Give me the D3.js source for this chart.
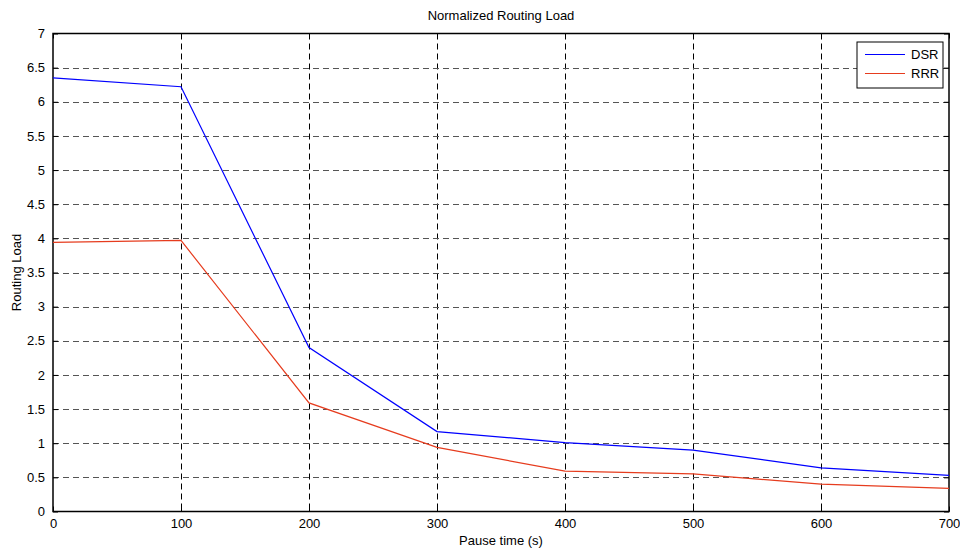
<!DOCTYPE html>
<html>
<head>
<meta charset="utf-8">
<script src="https://cdn.jsdelivr.net/npm/d3@7"></script>
<style>
  body { margin: 0; background: #fff; }
  text { font-family: "Liberation Sans", Arial, sans-serif; fill: #000; }
</style>
</head>
<body>
<div id="chart"></div>
<script>
var w = 960,
    h = 549;

// data
var pauseTimes = [0, 100, 200, 300, 400, 500, 600, 700];
var dsrLoad = [6.35, 6.22, 2.40, 1.17, 1.01, 0.90, 0.64, 0.53];
var rrrLoad = [3.94, 3.97, 1.59, 0.94, 0.59, 0.55, 0.40, 0.34];
var seriesNames = ["DSR", "RRR"];
var xTicks = [0, 100, 200, 300, 400, 500, 600, 700];
var yTicks = [0, 0.5, 1, 1.5, 2, 2.5, 3, 3.5, 4, 4.5, 5, 5.5, 6, 6.5, 7];

var color = d3.scaleOrdinal()
    .domain(seriesNames)
    .range(["#0000ff", "#e63c1e"]);

var margin = { top: 33.5, right: 11, bottom: 37.5, left: 53 };

var x = d3.scaleLinear().domain([0, 700]).range([margin.left, w - margin.right]);
var y = d3.scaleLinear().domain([0, 7]).range([h - margin.bottom, margin.top]);

var svg = d3.select("#chart").append("svg")
    .attr("width", w)
    .attr("height", h);

///////////////// grid ////////////////
var grid = svg.append("g").attr("class", "grid");

grid.selectAll(".vgrid")
    .data(xTicks.slice(1, -1))
    .enter().append("line")
    .attr("x1", function(d) { return Math.round(x(d)) + 0.5; })
    .attr("x2", function(d) { return Math.round(x(d)) + 0.5; })
    .attr("y1", y(7))
    .attr("y2", y(0))
    .style("stroke", "#000")
    .style("stroke-dasharray", "6,4");

grid.selectAll(".hgrid")
    .data(yTicks.slice(1, -1))
    .enter().append("line")
    .attr("x1", x(0))
    .attr("x2", x(700))
    .attr("y1", function(d) { return Math.round(y(d)) + 0.5; })
    .attr("y2", function(d) { return Math.round(y(d)) + 0.5; })
    .style("stroke", "#555")
    .style("stroke-dasharray", "6,4");

///////////////// axes ////////////////
var xAxis = d3.axisBottom(x).tickValues(xTicks).tickSizeInner(-5).tickSizeOuter(0).tickPadding(7);
var yAxis = d3.axisLeft(y).tickValues(yTicks).tickSizeInner(-5).tickSizeOuter(0).tickPadding(8)
    .tickFormat(function(d) { return d3.format("")(d); });

svg.append("g")
    .attr("transform", "translate(0," + (h - margin.bottom) + ")")
    .call(xAxis);
svg.append("g")
    .attr("transform", "translate(" + margin.left + ",0)")
    .call(yAxis);

// mirrored ticks on top and right
svg.append("g")
    .attr("transform", "translate(0," + margin.top + ")")
    .call(d3.axisTop(x).tickValues(xTicks).tickSizeInner(-5).tickSizeOuter(0).tickFormat(""));
svg.append("g")
    .attr("transform", "translate(" + (w - margin.right) + ",0)")
    .call(d3.axisRight(y).tickValues(yTicks).tickSizeInner(-5).tickSizeOuter(0).tickFormat(""));

svg.selectAll(".domain").style("stroke", "none");
svg.selectAll(".tick line").style("stroke", "#000");
svg.selectAll(".tick text").style("font-size", "13px").style("font-family", "'Liberation Sans', Arial, sans-serif");

// box
svg.append("rect")
    .attr("x", x(0))
    .attr("y", y(7))
    .attr("width", x(700) - x(0))
    .attr("height", y(0) - y(7))
    .style("fill", "none")
    .style("stroke", "#000")
    .style("stroke-width", 1.5);

///////////////// lines ////////////////
var line = d3.line()
    .x(function(d) { return x(d.t); })
    .y(function(d) { return y(d.v); });

var series = [
    { name: "DSR", values: pauseTimes.map(function(t, i) { return { t: t, v: dsrLoad[i] }; }) },
    { name: "RRR", values: pauseTimes.map(function(t, i) { return { t: t, v: rrrLoad[i] }; }) }
];

svg.selectAll(".series")
    .data(series)
    .enter().append("path")
    .attr("class", "series")
    .attr("d", function(d) { return line(d.values); })
    .style("fill", "none")
    .style("stroke", function(d) { return color(d.name); })
    .style("stroke-width", 1.2);

///////////////// legend ////////////////
var legend = svg.append("g").attr("transform", "translate(857,42)");
legend.append("rect")
    .attr("width", 86)
    .attr("height", 46)
    .style("fill", "#fff")
    .style("stroke", "#000");

var items = legend.selectAll(".item")
    .data(seriesNames)
    .enter().append("g")
    .attr("transform", function(d, i) { return "translate(0," + (12.5 + i * 19) + ")"; });
items.append("line")
    .attr("x1", 8).attr("x2", 48)
    .style("stroke", function(d) { return color(d); })
    .style("stroke-width", 1.2);
items.append("text")
    .attr("x", 54)
    .attr("dy", "0.35em")
    .style("font-size", "13px")
    .text(function(d) { return d; });

///////////////// labels ////////////////
svg.append("text")
    .attr("x", (x(0) + x(700)) / 2)
    .attr("y", 20)
    .attr("text-anchor", "middle")
    .style("font-size", "13px")
    .text("Normalized Routing Load");

svg.append("text")
    .attr("x", (x(0) + x(700)) / 2)
    .attr("y", 545)
    .attr("text-anchor", "middle")
    .style("font-size", "13px")
    .text("Pause time (s)");

svg.append("text")
    .attr("transform", "translate(21," + ((y(0) + y(7)) / 2) + ") rotate(-90)")
    .attr("text-anchor", "middle")
    .style("font-size", "13px")
    .text("Routing Load");
</script>
</body>
</html>
